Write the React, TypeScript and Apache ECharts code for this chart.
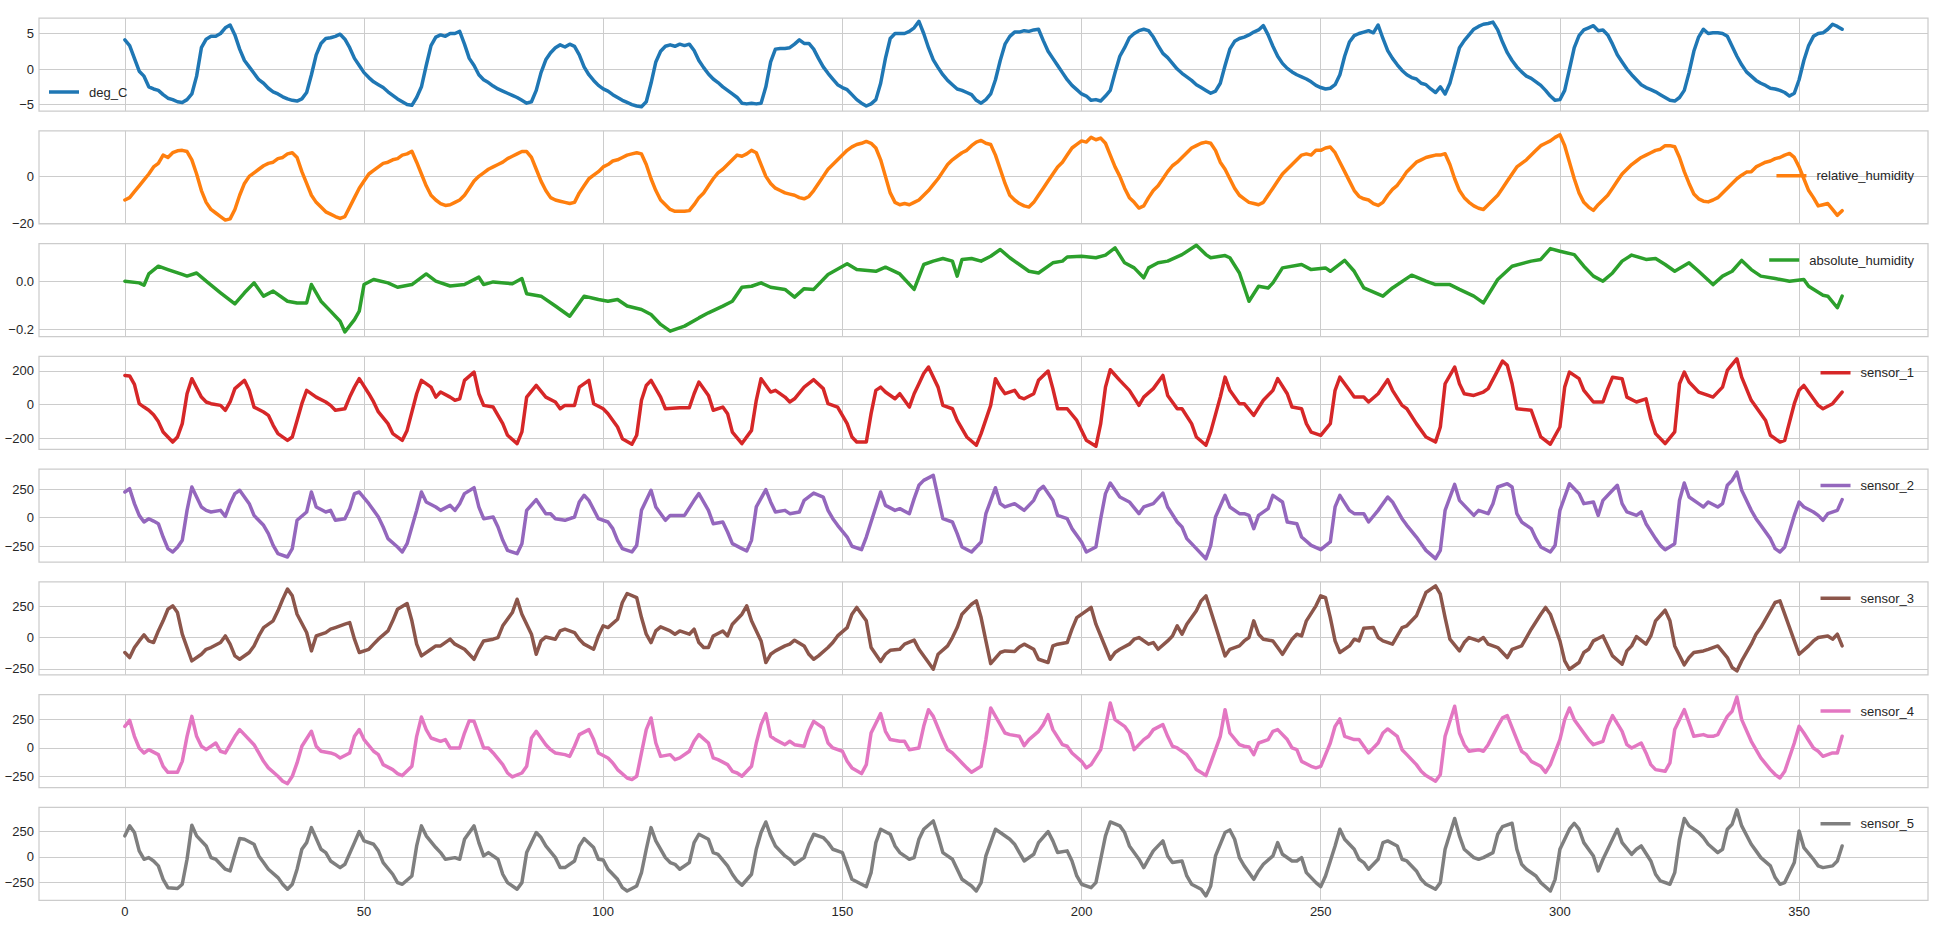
import React, { useEffect, useRef } from 'react';
import * as echarts from 'echarts';

const xTicks = [0, 50, 100, 150, 200, 250, 300, 350];

const degC = [
  4.1,3.3,1.5,-0.3,-1.0,-2.5,-2.8,-3.0,-3.6,-4.1,
  -4.3,-4.6,-4.7,-4.3,-3.5,-1.0,3.0,4.2,4.6,4.6,
  5.0,5.8,6.2,4.8,2.8,1.2,0.3,-0.6,-1.5,-2.0,
  -2.7,-3.2,-3.5,-3.9,-4.2,-4.4,-4.5,-4.2,-3.3,-0.8,
  2.0,3.6,4.3,4.4,4.6,4.9,4.2,3.0,1.5,0.5,
  -0.5,-1.2,-1.8,-2.2,-2.6,-3.2,-3.7,-4.2,-4.6,-5.0,
  -5.1,-4.0,-2.5,0.5,3.3,4.5,4.8,4.6,5.0,5.0,
  5.3,3.5,1.5,0.5,-0.8,-1.5,-1.9,-2.4,-2.8,-3.1,
  -3.4,-3.7,-4.0,-4.4,-4.8,-4.6,-3.0,-0.5,1.3,2.3,
  3.0,3.4,3.1,3.5,3.2,2.0,0.3,-0.8,-1.6,-2.3,
  -2.8,-3.1,-3.6,-4.0,-4.4,-4.7,-5.0,-5.2,-5.3,-4.6,
  -2.0,1.0,2.5,3.2,3.4,3.2,3.5,3.3,3.5,2.6,
  1.2,0.2,-0.7,-1.4,-1.9,-2.5,-3.0,-3.5,-4.0,-4.8,
  -4.9,-4.8,-4.9,-4.8,-2.5,1.0,2.8,2.9,2.9,3.0,
  3.5,4.1,3.6,3.6,2.8,1.5,0.3,-0.6,-1.4,-2.2,
  -2.6,-2.9,-3.6,-4.3,-4.8,-5.2,-4.9,-4.3,-2.0,1.5,
  4.3,5.0,5.0,5.0,5.3,5.8,6.7,5.0,3.0,1.3,
  0.2,-0.8,-1.6,-2.2,-2.8,-3.0,-3.3,-3.6,-4.4,-4.8,
  -4.3,-3.5,-1.5,1.2,3.5,4.6,5.2,5.2,5.4,5.3,
  5.5,5.6,4.0,2.5,1.5,0.5,-0.5,-1.5,-2.3,-2.9,
  -3.5,-3.8,-4.4,-4.3,-4.5,-3.8,-3.0,-0.5,1.8,3.0,
  4.4,5.0,5.4,5.6,5.4,4.5,3.3,2.2,1.6,0.8,
  0.0,-0.6,-1.1,-1.6,-2.2,-2.6,-3.0,-3.4,-3.1,-2.0,
  0.5,2.8,3.9,4.3,4.5,4.8,5.2,5.5,6.1,4.8,
  3.2,1.8,0.8,0.1,-0.4,-0.8,-1.1,-1.4,-1.8,-2.3,
  -2.6,-2.8,-2.7,-2.2,-0.8,1.8,3.8,4.7,5.0,5.2,
  5.4,5.1,6.2,4.3,2.6,1.5,0.6,-0.2,-0.8,-1.2,
  -1.4,-2.0,-2.2,-2.8,-3.3,-2.5,-3.5,-2.0,0.5,3.0,
  4.0,4.8,5.6,6.0,6.3,6.4,6.6,5.5,3.8,2.3,
  1.2,0.3,-0.4,-1.0,-1.3,-1.8,-2.3,-3.0,-3.8,-4.4,
  -4.3,-3.0,0.0,3.0,4.7,5.5,5.8,6.1,5.4,5.5,
  4.8,3.5,2.0,1.0,0.0,-0.8,-1.5,-2.2,-2.6,-2.9,
  -3.2,-3.6,-4.0,-4.4,-4.5,-4.0,-3.0,-0.5,2.5,4.5,
  5.6,5.0,5.1,5.1,5.0,4.6,3.2,1.8,0.6,-0.4,
  -1.0,-1.6,-2.0,-2.3,-2.7,-2.8,-3.0,-3.3,-3.8,-3.4,
  -1.5,1.2,3.3,4.6,5.0,5.1,5.6,6.3,6.0,5.6,
];

const relHum = [
  -10,-9,-6.5,-4,-1.5,1,4,5.5,9,8,
  10,10.8,11,10.5,7,1,-6,-11,-14,-15.5,
  -17,-18.5,-18,-14,-8,-3,0,1.5,3,4.5,
  5.5,6,7.5,8,9.5,10,8,2,-3,-8,
  -11,-13,-15,-16,-17,-17.8,-17,-13,-9,-5,
  -2,1,2.5,4,5.5,6,7,7.5,9,9.5,
  10.6,6,1,-4,-8,-10,-11.5,-12.3,-12,-11,
  -10,-8,-5,-2,0,1.5,3,4,5,6,
  7.5,8.5,9.5,10.5,10.5,8,3,-2,-6,-9,
  -10,-10.5,-11,-11.5,-11,-7,-4,-1,0.5,2,
  4,5,6.5,7,8,9,9.5,10,9.5,5,
  -1,-6,-10,-12,-14,-14.8,-14.8,-14.8,-14.5,-12,
  -9,-7,-4,-1,1.5,3,5,7,9,8.5,
  9.5,11,10,5,0,-3,-5,-6,-7,-7.5,
  -8,-9,-9.5,-8.5,-6,-3,0,3,5,7,
  9,11,12.5,13.5,14,14.8,14,12,7,0,
  -7,-11,-12,-11.5,-12,-11,-10,-8,-6,-3.5,
  -1,2,5,7,8.5,10,11,13,14.5,15.2,
  14,13.5,9,3,-3,-8,-10,-11.5,-12.5,-13,
  -11,-8,-5,-2,1,4,6,9,12,13.5,
  15,14.5,16.5,15.5,16.2,14,9,4,0,-5,
  -9,-11,-13.4,-12.5,-9,-6,-4,-1,2,4.5,
  6,8,10,12,13,14,14.5,14,11,6,
  3,-1,-5,-8,-9.5,-11,-11.5,-12,-11,-8,
  -5,-2,1,3,5,7,9,9.5,9,11,
  11,12,12.4,10,6,2,-2,-6,-8.5,-9.5,
  -10,-11.5,-12.3,-11,-8,-5.5,-3.8,-1,2,4,
  6,7,8,8.5,9,9,9.6,5,-1,-6,
  -9,-11,-12.5,-13.5,-14,-12,-10,-8,-5,-2,
  1,4,5.5,7,9,11,13,14,15,16.5,
  17.6,13,6,-1,-7,-11,-13,-14.4,-12,-10,
  -8,-5,-2,1,3,5,6.5,8,9,10,
  11,11.5,13,13,12.5,8,2,-3,-7.5,-9.5,
  -10.5,-10.8,-10,-9,-7,-5,-3,-1,0.5,1.8,
  2,4,5,6,6.5,7.5,8,9,9.7,8,
  4,-1,-6,-9,-12.5,-12,-11.5,-14,-16.5,-14.5,
];

const absHum = [[0,0],[3,-0.007],[4,-0.017],[5,0.03],[7,0.062],[9,0.048],[12,0.028],[13,0.021],[15,0.034],[17,0],[20,-0.048],[23,-0.094],[25,-0.048],[27,-0.007],[29,-0.062],[31,-0.041],[34,-0.083],[36,-0.09],[38,-0.09],[39,-0.014],[41,-0.083],[43,-0.124],[45,-0.166],[46,-0.21],[48,-0.159],[49,-0.124],[50,-0.014],[52,0.007],[55,-0.007],[57,-0.025],[60,-0.014],[63,0.03],[65,0],[68,-0.02],[71,-0.014],[74,0.017],[75,-0.014],[77,-0.003],[81,-0.011],[83,0.011],[84,-0.052],[87,-0.062],[90,-0.103],[93,-0.145],[96,-0.062],[99,-0.076],[101,-0.083],[103,-0.076],[105,-0.103],[108,-0.117],[110,-0.138],[112,-0.179],[114,-0.207],[117,-0.186],[120,-0.152],[122,-0.131],[125,-0.103],[127,-0.083],[129,-0.025],[131,-0.021],[133,-0.007],[135,-0.025],[138,-0.034],[140,-0.066],[142,-0.031],[144,-0.034],[147,0.028],[151,0.072],[153,0.048],[157,0.041],[159,0.058],[162,0.03],[165,-0.034],[167,0.069],[169,0.083],[171,0.094],[173,0.083],[174,0.021],[175,0.09],[177,0.094],[179,0.083],[181,0.103],[183,0.131],[185,0.097],[187,0.069],[189,0.041],[191,0.034],[194,0.076],[196,0.083],[197,0.1],[200,0.103],[203,0.097],[205,0.108],[207,0.138],[209,0.076],[211,0.055],[213,0.014],[214,0.055],[216,0.076],[218,0.083],[221,0.11],[224,0.149],[226,0.11],[227,0.097],[230,0.106],[231,0.097],[233,0.034],[235,-0.083],[237,-0.021],[239,-0.028],[240,-0.007],[242,0.055],[246,0.069],[248,0.048],[251,0.055],[252,0.041],[255,0.086],[257,0.041],[259,-0.028],[263,-0.062],[265,-0.028],[269,0.025],[272,0],[274,-0.014],[277,-0.014],[279,-0.034],[282,-0.062],[284,-0.09],[287,0.007],[290,0.062],[294,0.083],[296,0.09],[298,0.135],[300,0.124],[303,0.11],[305,0.062],[307,0.021],[309,0],[311,0.034],[313,0.083],[315,0.108],[318,0.09],[320,0.094],[322,0.069],[324,0.041],[327,0.076],[329,0.041],[332,-0.014],[334,0.021],[336,0.041],[338,0.086],[340,0.048],[342,0.021],[345,0.011],[348,0],[351,0.007],[352,-0.021],[355,-0.058],[356,-0.062],[358,-0.11],[359,-0.062]];

const sensor1 = [[0,173],[1,170],[2,120],[3,6],[4,-14],[5,-33],[6,-60],[7,-100],[8,-162],[10,-221],[11,-191],[12,-112],[13,65],[14,154],[16,45],[17,16],[18,6],[20,-4],[21,-33],[22,16],[23,95],[25,144],[26,85],[27,-14],[29,-43],[30,-63],[31,-122],[32,-171],[34,-211],[35,-191],[36,-93],[37,6],[38,85],[40,45],[42,16],[43,-4],[44,-33],[46,-24],[47,45],[48,104],[49,154],[51,65],[52,16],[53,-43],[55,-112],[56,-171],[58,-211],[59,-152],[61,65],[62,144],[64,104],[65,45],[66,75],[68,45],[69,26],[70,35],[71,144],[73,193],[74,65],[75,-4],[77,-14],[79,-112],[80,-181],[82,-230],[83,-161],[84,45],[86,114],[88,45],[90,16],[91,-24],[92,-4],[94,-4],[95,104],[97,144],[98,6],[100,-24],[101,-53],[103,-132],[104,-201],[106,-234],[107,-181],[108,26],[109,114],[110,144],[112,45],[113,-24],[116,-18],[118,-18],[119,65],[120,134],[122,55],[123,-33],[125,-14],[126,-53],[127,-162],[129,-230],[131,-152],[132,26],[133,154],[135,75],[136,85],[138,45],[139,16],[140,35],[142,104],[144,148],[146,95],[147,6],[149,-14],[151,-112],[152,-191],[153,-221],[155,-221],[156,-53],[157,85],[158,104],[159,75],[161,35],[162,65],[164,-14],[165,65],[166,124],[167,185],[168,223],[170,104],[171,-4],[173,-24],[174,-93],[176,-191],[178,-240],[179,-171],[181,-4],[182,154],[183,104],[184,65],[186,85],[187,45],[188,35],[190,65],[191,144],[193,199],[194,95],[195,-24],[197,-24],[199,-93],[201,-211],[203,-246],[204,-112],[205,104],[206,207],[208,144],[210,85],[212,-4],[213,45],[215,95],[217,173],[218,55],[220,-24],[221,-24],[223,-112],[224,-191],[226,-240],[227,-161],[229,45],[230,163],[231,85],[233,6],[234,6],[236,-63],[238,26],[240,85],[241,154],[243,65],[244,-14],[246,-24],[247,-112],[248,-162],[250,-181],[252,-112],[253,85],[254,163],[256,85],[257,45],[259,45],[260,16],[262,65],[264,148],[265,85],[267,-4],[268,-24],[270,-112],[272,-191],[274,-221],[275,-132],[276,124],[278,223],[279,124],[280,65],[282,55],[284,75],[285,95],[287,203],[288,258],[289,233],[290,124],[291,-24],[294,-33],[295,-112],[296,-191],[298,-234],[300,-132],[301,104],[302,193],[304,154],[305,85],[307,16],[309,16],[310,95],[311,163],[313,154],[314,45],[316,16],[318,35],[319,-83],[320,-171],[322,-230],[324,-161],[325,124],[326,193],[327,134],[329,75],[331,55],[332,45],[334,104],[335,203],[337,272],[338,163],[340,26],[341,-14],[343,-93],[344,-181],[346,-221],[347,-211],[349,6],[350,85],[351,114],[353,35],[354,-4],[355,-24],[357,6],[359,75]];

const sensor2 = [[0,225],[1,254],[2,123],[3,20],[4,-38],[5,-9],[6,-30],[7,-53],[8,-170],[9,-272],[10,-301],[11,-260],[12,-199],[13,64],[14,269],[16,94],[17,64],[18,50],[20,64],[21,12],[22,123],[23,211],[24,240],[26,123],[27,20],[29,-67],[30,-140],[31,-243],[32,-316],[34,-345],[35,-272],[36,-23],[38,50],[39,225],[40,94],[42,50],[43,64],[44,-23],[46,-9],[47,79],[48,211],[49,225],[51,123],[53,6],[54,-82],[55,-184],[57,-257],[58,-301],[59,-228],[61,64],[62,225],[63,138],[65,94],[66,64],[68,108],[69,64],[70,123],[71,211],[73,263],[74,94],[75,-9],[77,6],[78,-82],[79,-199],[80,-287],[82,-316],[83,-228],[84,64],[86,158],[88,35],[89,35],[90,-9],[92,-23],[94,6],[95,138],[96,196],[97,152],[99,-9],[101,-38],[102,-96],[103,-199],[104,-272],[106,-301],[107,-243],[108,64],[110,240],[111,94],[113,-23],[114,20],[116,20],[117,20],[119,152],[120,211],[122,64],[123,-53],[125,-38],[126,-126],[127,-228],[129,-272],[130,-292],[131,-199],[132,94],[134,246],[135,138],[136,50],[138,64],[139,35],[141,50],[142,152],[144,216],[146,181],[147,64],[148,-9],[149,-67],[151,-170],[152,-251],[154,-281],[155,-170],[157,94],[158,225],[159,108],[161,64],[162,79],[164,35],[165,167],[166,284],[167,327],[169,371],[170,181],[171,-9],[173,-38],[174,-140],[175,-257],[177,-301],[179,-213],[180,35],[182,263],[183,123],[184,94],[186,123],[187,94],[188,64],[190,152],[191,240],[192,275],[194,152],[195,20],[197,-9],[198,-96],[200,-213],[201,-301],[203,-257],[204,-9],[205,211],[206,304],[208,181],[210,138],[212,35],[213,94],[215,123],[217,216],[218,94],[220,-38],[221,-82],[222,-184],[224,-272],[226,-360],[227,-243],[228,6],[230,196],[231,94],[233,35],[234,35],[235,20],[236,-96],[237,20],[239,79],[240,196],[242,138],[243,-38],[245,-53],[246,-170],[248,-243],[250,-281],[252,-213],[253,94],[254,196],[256,64],[257,35],[259,35],[260,-38],[262,64],[264,181],[265,138],[267,-9],[268,-67],[270,-170],[272,-287],[274,-360],[275,-287],[276,64],[278,292],[279,152],[281,64],[282,20],[283,64],[285,35],[286,123],[287,269],[289,298],[290,269],[291,35],[292,-38],[294,-96],[295,-184],[296,-257],[298,-301],[299,-243],[300,64],[302,298],[304,211],[305,123],[307,138],[308,20],[309,152],[311,240],[312,284],[313,123],[314,50],[316,20],[317,50],[318,-53],[320,-184],[321,-243],[322,-281],[324,-228],[325,152],[326,304],[327,181],[329,123],[330,94],[331,138],[333,94],[334,123],[335,284],[336,327],[337,400],[338,240],[340,64],[341,-9],[342,-67],[344,-184],[345,-272],[346,-301],[347,-257],[349,20],[350,137],[351,94],[353,50],[354,20],[355,-23],[356,35],[358,64],[359,158]];

const sensor3 = [[0,-120],[1,-160],[2,-80],[3,-27],[4,21],[5,-27],[6,-40],[7,53],[8,134],[9,227],[10,254],[11,200],[12,27],[13,-80],[14,-187],[16,-134],[17,-94],[18,-80],[20,-40],[21,13],[22,-53],[23,-147],[24,-174],[26,-120],[27,-67],[28,13],[29,80],[31,134],[32,214],[33,307],[34,388],[35,334],[36,187],[38,40],[39,-107],[40,13],[42,40],[43,67],[44,80],[46,107],[47,120],[48,-13],[49,-120],[51,-94],[52,-53],[53,-13],[55,53],[56,134],[57,227],[59,273],[60,134],[61,-53],[62,-147],[64,-94],[65,-67],[66,-67],[68,-13],[69,-53],[71,-94],[73,-174],[74,-94],[75,-27],[77,-13],[78,0],[79,94],[81,200],[82,307],[83,187],[85,27],[86,-134],[87,-27],[88,5],[90,-13],[91,53],[92,67],[94,40],[95,-13],[96,-53],[98,-94],[99,13],[100,94],[101,80],[103,147],[104,281],[105,353],[107,320],[108,160],[109,27],[110,-40],[111,53],[112,86],[114,53],[115,27],[116,53],[118,27],[119,67],[120,-40],[121,-80],[122,-80],[123,13],[125,53],[126,13],[127,107],[129,187],[130,254],[131,134],[133,-27],[134,-200],[135,-134],[136,-107],[138,-67],[139,-53],[140,-21],[142,-67],[143,-134],[144,-174],[145,-147],[147,-80],[148,-40],[149,13],[151,80],[152,187],[153,241],[155,134],[156,-80],[158,-192],[159,-134],[160,-102],[162,-94],[163,-53],[165,-21],[166,-94],[168,-200],[169,-254],[170,-134],[172,-67],[173,0],[174,80],[175,187],[177,267],[178,294],[179,160],[180,-27],[181,-209],[183,-120],[184,-107],[186,-112],[187,-75],[188,-53],[190,-94],[191,-174],[193,-200],[194,-67],[195,-53],[197,-40],[198,67],[199,160],[201,214],[202,241],[203,107],[205,-80],[206,-174],[207,-120],[208,-94],[210,-53],[211,-13],[212,0],[214,-53],[215,-40],[216,-94],[218,-27],[219,13],[220,94],[221,27],[222,107],[224,214],[225,294],[226,334],[227,214],[229,-27],[230,-147],[231,-94],[233,-67],[234,-27],[235,0],[236,134],[237,27],[238,-13],[240,-27],[241,-80],[242,-134],[244,-13],[245,27],[246,13],[247,134],[249,254],[250,334],[251,320],[252,160],[253,-27],[254,-120],[256,-67],[257,-13],[258,-27],[259,75],[261,80],[262,0],[263,-27],[265,-53],[266,13],[267,80],[268,94],[270,174],[271,267],[272,361],[274,414],[275,347],[276,160],[277,-13],[279,-107],[280,-40],[281,0],[283,-27],[284,0],[285,-53],[287,-80],[288,-120],[289,-160],[290,-94],[292,-67],[293,0],[294,67],[296,187],[297,241],[298,187],[300,-27],[301,-187],[302,-254],[304,-200],[305,-120],[306,-94],[307,-27],[309,13],[310,-67],[311,-147],[313,-214],[314,-107],[315,-67],[316,8],[318,-53],[319,13],[320,134],[322,219],[323,134],[324,-67],[326,-219],[327,-160],[328,-120],[330,-107],[331,-94],[332,-80],[333,-67],[335,-160],[336,-240],[337,-267],[338,-187],[340,-53],[341,27],[342,80],[344,214],[345,281],[346,294],[347,187],[349,-27],[350,-134],[352,-67],[353,-27],[354,0],[356,13],[357,-13],[358,27],[359,-67]];

const sensor4 = [[0,191],[1,244],[2,103],[3,0],[4,-44],[5,-15],[7,-59],[8,-162],[9,-215],[11,-215],[12,-118],[13,103],[14,279],[15,103],[16,15],[17,-15],[19,44],[20,-29],[21,-44],[23,103],[24,162],[25,118],[27,29],[28,-44],[29,-118],[30,-176],[32,-250],[33,-294],[34,-315],[35,-250],[36,-132],[37,15],[39,147],[40,15],[41,-29],[43,-44],[44,-59],[45,-88],[47,-44],[48,103],[49,162],[50,74],[52,-29],[53,-59],[54,-147],[56,-191],[57,-226],[58,-244],[60,-162],[61,103],[62,273],[63,162],[64,88],[66,59],[67,74],[68,0],[70,0],[71,132],[72,241],[73,235],[75,0],[76,0],[77,-44],[79,-147],[80,-221],[81,-256],[83,-221],[84,-162],[85,88],[86,147],[88,29],[89,-15],[90,-44],[92,-59],[93,-74],[94,15],[95,118],[97,162],[98,74],[99,-44],[101,-88],[102,-132],[103,-191],[105,-265],[106,-279],[107,-250],[108,-44],[109,162],[110,265],[111,44],[112,-74],[114,-59],[115,-103],[116,-88],[118,-29],[119,59],[120,118],[122,44],[123,-88],[124,-103],[126,-147],[127,-206],[128,-221],[129,-250],[131,-162],[132,44],[133,206],[134,303],[135,103],[136,74],[138,29],[139,59],[140,29],[142,15],[143,147],[144,235],[146,176],[147,44],[148,0],[150,-29],[151,-118],[152,-176],[154,-226],[155,-147],[156,132],[158,303],[159,147],[160,74],[162,59],[163,59],[164,-15],[166,0],[167,191],[168,338],[169,279],[171,74],[172,-15],[173,-44],[175,-132],[176,-176],[177,-215],[179,-162],[180,74],[181,353],[183,206],[184,132],[185,118],[187,103],[188,21],[189,74],[191,147],[192,206],[193,294],[194,162],[196,29],[197,15],[198,-44],[200,-118],[201,-176],[202,-147],[204,-15],[205,191],[206,397],[207,250],[209,191],[210,132],[211,-15],[213,74],[214,103],[215,162],[217,206],[218,103],[219,15],[220,0],[222,-59],[223,-118],[224,-191],[226,-244],[227,-132],[229,103],[230,338],[231,132],[233,29],[234,15],[235,9],[236,-59],[237,44],[239,74],[240,147],[241,162],[243,74],[244,0],[245,-15],[246,-118],[248,-162],[249,-176],[250,-162],[252,44],[253,191],[254,256],[255,103],[257,74],[258,74],[259,15],[260,-44],[262,44],[263,132],[264,168],[266,103],[267,-15],[268,-59],[270,-147],[271,-206],[272,-244],[274,-294],[275,-235],[276,103],[278,368],[279,132],[280,29],[281,-29],[283,-15],[284,-29],[285,29],[287,191],[288,265],[289,285],[291,74],[292,-29],[293,-59],[294,-118],[296,-162],[297,-215],[298,-147],[300,74],[301,250],[302,353],[303,250],[305,132],[306,74],[307,29],[309,59],[310,191],[311,285],[313,147],[314,29],[315,0],[317,44],[318,-44],[319,-147],[320,-191],[322,-206],[323,-132],[324,162],[326,338],[327,221],[328,103],[330,118],[331,103],[332,103],[333,118],[335,279],[336,324],[337,450],[338,250],[340,59],[341,-15],[342,-88],[344,-191],[345,-235],[346,-265],[347,-206],[349,44],[350,191],[351,132],[353,0],[354,-29],[355,-74],[357,-44],[358,-44],[359,103]];

const sensor5 = [[0,209],[1,308],[2,242],[3,60],[4,-23],[5,-7],[6,-40],[7,-89],[8,-222],[9,-305],[11,-314],[12,-271],[13,-23],[14,314],[15,209],[17,109],[18,-7],[19,-23],[21,-122],[22,-139],[23,26],[24,182],[25,175],[27,126],[28,10],[29,-56],[30,-122],[32,-205],[33,-271],[34,-321],[35,-271],[36,-122],[37,76],[38,142],[39,291],[41,76],[42,43],[43,-40],[45,-106],[46,-73],[48,142],[49,252],[50,159],[52,126],[53,60],[54,-56],[56,-172],[57,-255],[58,-271],[60,-189],[61,109],[62,308],[63,209],[65,93],[66,43],[67,-23],[69,-7],[70,-23],[71,175],[73,308],[74,142],[75,10],[76,43],[78,-23],[79,-172],[80,-255],[82,-321],[83,-255],[84,43],[86,242],[87,192],[88,109],[90,-7],[91,-106],[92,-106],[94,-40],[95,109],[96,182],[98,93],[99,-23],[100,-30],[101,-122],[103,-222],[104,-305],[105,-338],[107,-288],[108,-156],[109,76],[110,291],[111,159],[113,-7],[114,-56],[115,-73],[116,-122],[118,-56],[119,142],[120,225],[122,175],[123,43],[124,26],[126,-89],[127,-172],[128,-238],[129,-281],[131,-172],[132,76],[133,242],[134,347],[135,209],[136,109],[138,10],[139,-23],[140,-73],[142,-7],[143,126],[144,225],[146,192],[147,142],[148,76],[150,43],[151,-89],[152,-222],[154,-271],[155,-295],[156,-156],[157,142],[158,275],[160,225],[161,109],[162,43],[164,-23],[165,-7],[166,175],[167,275],[169,357],[170,209],[171,43],[173,-23],[174,-122],[175,-222],[177,-288],[178,-338],[179,-255],[180,10],[182,275],[183,242],[185,175],[186,126],[187,43],[188,-40],[190,26],[191,142],[193,252],[194,159],[195,43],[197,60],[198,-40],[199,-189],[200,-271],[202,-305],[203,-255],[204,-23],[205,209],[206,347],[208,308],[209,242],[210,109],[212,-23],[213,-106],[214,-23],[215,60],[217,159],[218,10],[219,-56],[221,-40],[222,-189],[223,-271],[225,-321],[226,-387],[227,-288],[228,10],[230,242],[231,268],[232,175],[233,-7],[234,-89],[236,-222],[237,-139],[238,-73],[240,10],[241,142],[242,26],[244,-40],[245,-40],[246,-7],[247,-156],[249,-255],[250,-295],[251,-189],[253,109],[254,275],[255,175],[257,76],[258,-23],[259,-56],[260,-122],[262,-23],[263,142],[264,159],[266,109],[267,-23],[268,-40],[270,-139],[271,-222],[272,-271],[274,-321],[275,-255],[276,76],[278,381],[279,209],[280,76],[282,-7],[283,-23],[284,-7],[286,43],[287,225],[288,301],[290,334],[291,76],[292,-73],[293,-122],[295,-189],[296,-255],[298,-338],[299,-222],[300,76],[302,275],[303,334],[304,275],[305,142],[307,10],[308,-139],[309,-23],[311,175],[312,275],[313,142],[315,26],[316,76],[317,109],[319,-40],[320,-172],[321,-238],[323,-271],[324,-156],[325,175],[326,381],[327,308],[329,242],[330,192],[331,126],[333,43],[334,76],[335,275],[336,324],[337,467],[338,308],[340,126],[341,60],[342,-7],[344,-89],[345,-205],[346,-271],[347,-255],[349,-56],[350,258],[351,93],[353,-23],[354,-89],[355,-106],[357,-89],[358,-40],[359,109]];

const seriesNames = ['deg_C', 'relative_humidity', 'absolute_humidity', 'sensor_1', 'sensor_2', 'sensor_3', 'sensor_4', 'sensor_5'];
const seriesColors = ['#1f77b4', '#ff7f0e', '#2ca02c', '#d62728', '#9467bd', '#8c564b', '#e377c2', '#7f7f7f'];
const yTickValues = [[-5, 0, 5], [-20, 0], [-0.2, 0.0], [-200, 0, 200], [-250, 0, 250], [-250, 0, 250], [-250, 0, 250], [-250, 0, 250]];
const yMins = [-5.9, -20.05, -0.229, -263.6, -389, -298, -349, -430];
const yMaxs = [7.18, 19.3, 0.156, 286.7, 427, 447, 472, 493];

const FONT = '"Liberation Sans", Arial, "DejaVu Sans", sans-serif';
const TEXT = '#262626';
const GRID_TOP0 = 18;
const GRID_STEP = 112.75;
const GRID_H = 93;

function toPairs(values: number[]) {
  return values.map((v, i) => [i, v]);
}

export default function App() {
  const ref = useRef<HTMLDivElement>(null);

  useEffect(() => {
    if (!ref.current) return;
    const chart = echarts.init(ref.current, undefined, { renderer: 'svg' });
    const datasets = [toPairs(degC), toPairs(relHum), absHum, sensor1, sensor2, sensor3, sensor4, sensor5];

    const grids = seriesNames.map((_, i) => ({
      left: 39,
      width: 1889,
      top: GRID_TOP0 + GRID_STEP * i,
      height: GRID_H,
      show: true,
      borderColor: '#cccccc',
      borderWidth: 1.25,
      backgroundColor: '#ffffff',
      containLabel: false,
      outerBoundsMode: 'none',
    }));

    const xAxes = seriesNames.map((_, i) => ({
      type: 'value',
      gridIndex: i,
      min: -17.95,
      max: 376.95,
      axisLine: { show: false },
      axisTick: { show: false, customValues: xTicks },
      axisLabel: {
        show: i === seriesNames.length - 1,
        customValues: xTicks,
        fontSize: 13,
        fontFamily: FONT,
        color: TEXT,
        margin: 5,
      },
      splitLine: { show: true, lineStyle: { color: '#cccccc', width: 1 } },
    }));

    const yAxes = seriesNames.map((_, i) => ({
      type: 'value',
      gridIndex: i,
      min: yMins[i],
      max: yMaxs[i],
      axisLine: { show: false },
      axisTick: { show: false, customValues: yTickValues[i] },
      axisLabel: {
        customValues: yTickValues[i],
        fontSize: 13,
        fontFamily: FONT,
        color: TEXT,
        margin: 5,
        formatter: (v: number) => {
          const s = i === 2 ? v.toFixed(1) : String(Math.round(v));
          return s.replace('-', '\u2212');
        },
      },
      splitLine: { show: true, lineStyle: { color: '#cccccc', width: 1 } },
    }));

    const legendPos = seriesNames.map((_, i) => {
      const top = GRID_TOP0 + GRID_STEP * i;
      if (i === 0) return { left: 49, top: 92 - 8 };
      if (i === 1) return { right: 36, top: top + 45 - 8 };
      return { right: 36, top: top + 16.5 - 8 };
    });

    const legends = seriesNames.map((name, i) => ({
      data: [name],
      ...legendPos[i],
      orient: 'horizontal',
      align: 'left',
      padding: 0,
      itemWidth: 30,
      itemHeight: 3.5,
      itemGap: 0,
      icon: 'rect',
      selectedMode: false,
      textStyle: { fontSize: 13, fontFamily: FONT, color: TEXT, padding: [0, 0, 0, 5], lineHeight: 16 },
    }));

    const series = seriesNames.map((name, i) => ({
      type: 'line',
      name,
      xAxisIndex: i,
      yAxisIndex: i,
      data: datasets[i],
      showSymbol: false,
      symbol: 'none',
      silent: true,
      clip: true,
      color: seriesColors[i],
      lineStyle: { width: 3.5, color: seriesColors[i], join: 'round', cap: 'round' },
      itemStyle: { color: seriesColors[i] },
    }));

    chart.setOption({
      animation: false,
      backgroundColor: '#ffffff',
      grid: grids,
      xAxis: xAxes,
      yAxis: yAxes,
      legend: legends,
      series,
    });

    return () => chart.dispose();
  }, []);

  return (
    <div
      ref={ref}
      style={{ position: 'absolute', left: 0, top: 0, width: 1950, height: 930, background: '#ffffff' }}
    />
  );
}
